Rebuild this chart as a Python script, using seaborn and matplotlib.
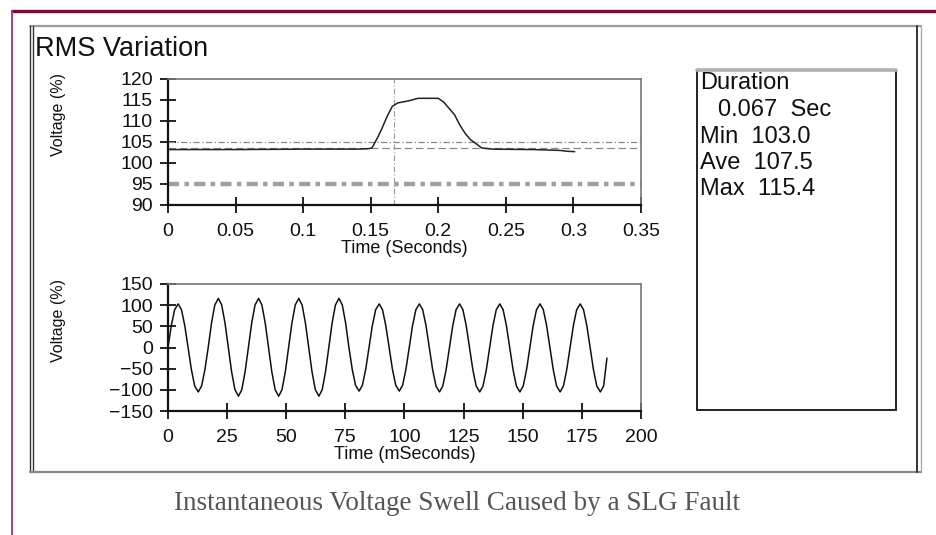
import numpy as np
import pandas as pd
import matplotlib
matplotlib.use("Agg")
import matplotlib.pyplot as plt
from matplotlib.lines import Line2D
from matplotlib.patches import Rectangle
import seaborn as sns

# ---------------- data ----------------
rms_time = [0.0, 0.05, 0.10, 0.14, 0.148, 0.151, 0.155, 0.158, 0.162, 0.166, 0.170,
            0.178, 0.185, 0.200, 0.204, 0.208, 0.212, 0.216, 0.220, 0.224, 0.228,
            0.232, 0.240, 0.270, 0.290, 0.295, 0.301]
rms_volt = [103.2, 103.2, 103.3, 103.3, 103.4, 103.6, 106.0, 108.0, 111.0, 113.5, 114.3,
            114.8, 115.4, 115.4, 114.5, 113.0, 111.5, 109.0, 107.0, 105.5, 104.6,
            103.6, 103.3, 103.2, 103.0, 102.8, 102.7]
ref_upper = 105.0
ref_mid = 103.5
ref_lower = 95.0
marker_time = 0.167

wave_time = [
    0.0, 1.4, 2.8, 4.3, 5.7, 7.1, 8.5, 9.9, 11.3, 12.8, 14.2, 15.6,
    17.0, 18.4, 19.8, 21.3, 22.7, 24.1, 25.5, 26.9, 28.3, 29.8, 31.2, 32.6,
    34.0, 35.4, 36.8, 38.3, 39.7, 41.1, 42.5, 43.9, 45.3, 46.8, 48.2, 49.6,
    51.0, 52.4, 53.8, 55.3, 56.7, 58.1, 59.5, 60.9, 62.3, 63.8, 65.2, 66.6,
    68.0, 69.4, 70.8, 72.3, 73.7, 75.1, 76.5, 77.9, 79.3, 80.8, 82.2, 83.6,
    85.0, 86.4, 87.8, 89.3, 90.7, 92.1, 93.5, 94.9, 96.3, 97.8, 99.2, 100.6,
    102.0, 103.4, 104.8, 106.3, 107.7, 109.1, 110.5, 111.9, 113.3, 114.8, 116.2, 117.6,
    119.0, 120.4, 121.8, 123.3, 124.7, 126.1, 127.5, 128.9, 130.3, 131.8, 133.2, 134.6,
    136.0, 137.4, 138.8, 140.3, 141.7, 143.1, 144.5, 145.9, 147.3, 148.8, 150.2, 151.6,
    153.0, 154.4, 155.8, 157.3, 158.7, 160.1, 161.5, 162.9, 164.3, 165.8, 167.2, 168.6,
    170.0, 171.4, 172.8, 174.3, 175.7, 177.1, 178.5, 179.9, 181.3, 182.8, 184.2, 185.6]
wave_volt = [
    0, 51.5, 89.2, 103, 89.2, 51.5, 0, -52.5, -90.9, -105, -90.9, -52.5,
    0, 58, 100.5, 116, 100.5, 58, 0, -57.5, -99.6, -115, -99.6, -57.5,
    0, 58, 100.5, 116, 100.5, 58, 0, -57.5, -99.6, -115, -99.6, -57.5,
    0, 58, 100.5, 116, 100.5, 58, 0, -57.5, -99.6, -115, -99.6, -57.5,
    0, 58, 100.5, 116, 100.5, 58, 0, -51.5, -89.2, -103, -89.2, -51.5,
    0, 51.5, 89.2, 103, 89.2, 51.5, 0, -51.5, -89.2, -103, -89.2, -51.5,
    0, 51.5, 89.2, 103, 89.2, 51.5, 0, -52.5, -90.9, -105, -90.9, -52.5,
    0, 51.5, 89.2, 103, 89.2, 51.5, 0, -52.5, -90.9, -105, -90.9, -52.5,
    0, 51.5, 89.2, 103, 89.2, 51.5, 0, -52.5, -90.9, -105, -90.9, -52.5,
    0, 51.5, 89.2, 103, 89.2, 51.5, 0, -52.5, -90.9, -105, -90.9, -52.5,
    0, 51.5, 89.2, 103, 89.2, 51.5, 0, -52.5, -90.9, -105, -90.9, -25]

top_xticks = [0, 0.05, 0.1, 0.15, 0.2, 0.25, 0.3, 0.35]
top_xlabels = ["0", "0.05", "0.1", "0.15", "0.2", "0.25", "0.3", "0.35"]
top_yticks = [90, 95, 100, 105, 110, 115, 120]
bot_xticks = [0, 25, 50, 75, 100, 125, 150, 175, 200]
bot_yticks = [-150, -100, -50, 0, 50, 100, 150]

info_lines = ["Duration", "0.067  Sec", "Min  103.0", "Ave  107.5", "Max  115.4"]
title_text = "RMS Variation"
caption_text = "Instantaneous Voltage Swell Caused by a SLG Fault"

# ---------------- style ----------------
sns.set_theme(style="white")
plt.rcParams["font.family"] = ["Liberation Sans", "DejaVu Sans"]
plt.rcParams["axes.unicode_minus"] = True

W, H = 937, 535
fig = plt.figure(figsize=(W / 100, H / 100), dpi=100)
fig.patch.set_facecolor("white")


def fx(x):
    return x / W


def fy(y):
    return 1 - y / H


def fline(x0, y0, x1, y1, **kw):
    fig.add_artist(Line2D([fx(x0), fx(x1)], [fy(y0), fy(y1)], transform=fig.transFigure, **kw))


# outer frames
fline(12, 11, 937, 11, color="#7a0a3e", lw=2.4)
fline(12, 11, 12, 535, color="#a8407a", lw=1.4)
fline(30, 26, 921, 26, color="#9a9a9a", lw=1.6)
fline(30, 26, 30, 472, color="#333333", lw=1.0)
fline(33, 26, 33, 472, color="#333333", lw=1.0)
fline(30, 472, 921, 472, color="#888888", lw=1.6)
fline(917, 26, 917, 472, color="#333333", lw=1.4)
fline(921, 26, 921, 472, color="#aaaaaa", lw=1.0)

# info box
fig.add_artist(Rectangle((fx(697), fy(410)), fx(896) - fx(697), fy(70) - fy(410),
                         transform=fig.transFigure, fill=False, ec="#111111", lw=1.3))
fline(697, 70, 896, 70, color="#b0b0b0", lw=2.6)
info_x = [700, 718, 700, 700, 700]
info_y = [83, 110, 137, 163, 189]
for s, xx, yy in zip(info_lines, info_x, info_y):
    fig.text(fx(xx), fy(yy), s, ha="left", va="center", fontsize=17, color="#111111")

fig.text(fx(35), fy(49), title_text, ha="left", va="center", fontsize=19.5, color="#111111")
fig.text(fx(457), fy(503), caption_text, ha="center", va="center", fontsize=19.5,
         color="#555555", family=["Liberation Serif", "DejaVu Serif"])


def style_axes(ax):
    ax.set_facecolor("white")
    for side in ["left", "bottom"]:
        ax.spines[side].set_color("#111111")
        ax.spines[side].set_linewidth(1.6)
    for side in ["top", "right"]:
        ax.spines[side].set_color("#777777")
        ax.spines[side].set_linewidth(1.2)
        ax.spines[side].set_visible(True)
    ax.tick_params(axis="both", which="major", bottom=True, left=True, top=False, right=False,
                   direction="inout", length=12, width=1.3, color="#111111",
                   labelsize=14, labelcolor="#111111")
    ax.tick_params(axis="y", pad=5)
    ax.tick_params(axis="x", pad=7)
    ax.grid(False)


ax_w = fx(641) - fx(168)

# top axes: RMS variation
ax1 = fig.add_axes([fx(168), fy(205), ax_w, fy(79) - fy(205)])
df_rms = pd.DataFrame({"t": rms_time, "v": rms_volt})
ax1.axhline(ref_lower, color="#a0a0a0", lw=3.2, ls=(0, (2.5, 1.2, 1, 1.2)), zorder=1)
ax1.axhline(ref_upper, color="#888888", lw=0.9, ls=(0, (5, 2, 1, 2)), zorder=1)
ax1.axhline(ref_mid, color="#888888", lw=0.9, ls=(0, (6, 3)), zorder=1)
ax1.axvline(marker_time, color="#999999", lw=0.8, ls=(0, (5, 2, 1, 2)), zorder=1)
sns.lineplot(data=df_rms, x="t", y="v", ax=ax1, color="#222222", lw=1.1, zorder=3)
ax1.set_xlim(0, 0.35)
ax1.set_ylim(90, 120)
ax1.set_xticks(top_xticks)
ax1.set_xticklabels(top_xlabels)
ax1.set_yticks(top_yticks)
ax1.set_xlabel("Time (Seconds)", fontsize=13, labelpad=0, color="#111111")
ax1.set_ylabel("Voltage (%)", fontsize=11.5, color="#111111")
style_axes(ax1)
ax1.yaxis.set_label_coords((fx(66) - fx(168)) / ax_w, 0.72)

# bottom axes: waveform
ax2 = fig.add_axes([fx(168), fy(411), ax_w, fy(284) - fy(411)])
df_w = pd.DataFrame({"t": wave_time, "v": wave_volt})
sns.lineplot(data=df_w, x="t", y="v", ax=ax2, color="#111111", lw=1.1)
ax2.set_xlim(0, 200)
ax2.set_ylim(-150, 150)
ax2.set_xticks(bot_xticks)
ax2.set_yticks(bot_yticks)
ax2.set_xlabel("Time (mSeconds)", fontsize=13, labelpad=0, color="#111111")
ax2.set_ylabel("Voltage (%)", fontsize=11.5, color="#111111")
style_axes(ax2)
ax2.yaxis.set_label_coords((fx(66) - fx(168)) / ax_w, 0.71)

fig.savefig("out.png", dpi=100, facecolor="white")
